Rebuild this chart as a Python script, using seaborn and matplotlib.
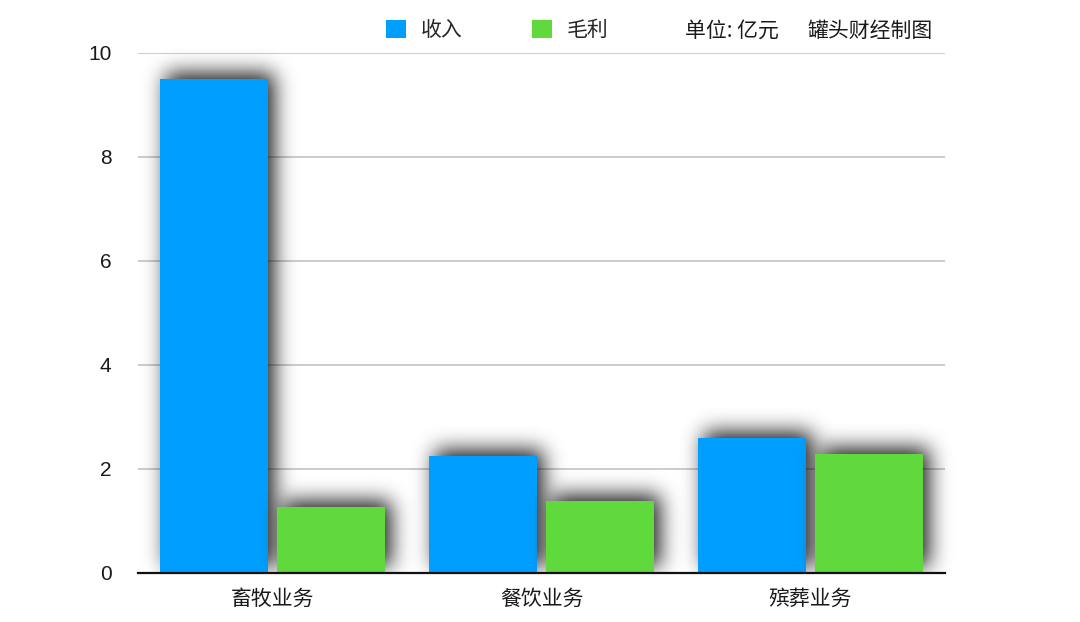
import numpy as np
import pandas as pd
import matplotlib
matplotlib.use("Agg")
import matplotlib.pyplot as plt
import seaborn as sns

# ---- data ----
categories = ["畜牧业务", "餐饮业务", "殡葬业务"]
series_names = ["收入", "毛利"]
revenue = [9.5, 2.25, 2.6]
gross_profit = [1.27, 1.38, 2.29]
y_ticks = [0, 2, 4, 6, 8, 10]
unit_text = "单位: 亿元"
credit_text = "罐头财经制图"

colors = {"收入": "#009FFF", "毛利": "#5FD93B"}

df = pd.DataFrame({
    "category": categories * 2,
    "series": [series_names[0]] * len(categories) + [series_names[1]] * len(categories),
    "value": revenue + gross_profit,
})

sns.set_theme(style="white")
plt.rcParams["font.family"] = ["Noto Sans CJK SC", "DejaVu Sans"]


def _blur(a, sigma):
    r = int(3 * sigma)
    x = np.arange(-r, r + 1)
    k = np.exp(-x ** 2 / (2 * sigma ** 2))
    k /= k.sum()
    out = np.zeros_like(a)
    p = np.pad(a, [(r, r), (0, 0)])
    for i, w in enumerate(k):
        out += w * p[i:i + a.shape[0], :]
    out2 = np.zeros_like(a)
    p = np.pad(out, [(0, 0), (r, r)])
    for i, w in enumerate(k):
        out2 += w * p[:, i:i + a.shape[1]]
    return out2


class ShadowFilter:
    def __init__(self, sigma=10.5, alpha=0.9, ox=6, oy=6):
        self.sigma = sigma
        self.alpha = alpha
        self.ox = ox
        self.oy = oy

    def __call__(self, im, dpi):
        h, w = im.shape[:2]
        pad = int(3 * self.sigma + max(abs(self.ox), abs(self.oy))) + 2
        p = np.pad(im, [(pad, pad), (pad, pad), (0, 0)])
        a = p[:, :, 3]
        sh = np.roll(a, self.ox, axis=1)
        sh = np.roll(sh, -self.oy, axis=0)
        sh = np.clip(_blur(sh, self.sigma) * self.alpha, 0, 1)
        sh[pad + h:, :] = 0.0  # clip at the baseline
        out = np.zeros_like(p)
        oa = a + sh * (1 - a)
        safe = np.maximum(oa, 1e-6)
        for c in range(3):
            out[:, :, c] = np.where(oa > 0, p[:, :, c] * a / safe, 0.0)
        out[:, :, 3] = oa
        return out, -pad, -pad


fig = plt.figure(figsize=(10.8, 6.22), dpi=100)
ax = fig.add_axes([138 / 1080, 1 - 573 / 622, (945 - 138) / 1080, (573 - 53) / 622])

sns.barplot(data=df, x="category", y="value", hue="series", order=categories,
            hue_order=series_names, palette=colors, width=0.874, gap=0.085,
            linewidth=0, saturation=1, ax=ax, legend=True)

for patch in ax.patches:
    patch.set_agg_filter(ShadowFilter())

ax.set_xlim(-0.5, len(categories) - 0.5)
ax.set_ylim(0, 10)
ax.set_yticks(y_ticks)
ax.set_yticklabels([str(t) for t in y_ticks],
                   family=["Liberation Sans", "Noto Sans CJK SC"])
ax.set_axisbelow(True)
ax.yaxis.grid(True, color="#c4c4c4", linewidth=1.2)
ax.xaxis.grid(False)
for s in ["top", "left", "right"]:
    ax.spines[s].set_visible(False)
ax.spines["bottom"].set_color("#111111")
ax.spines["bottom"].set_linewidth(1.6)
ax.set_xlabel("")
ax.set_ylabel("")
ax.tick_params(axis="y", length=0, pad=19, labelsize=15, labelcolor="#1a1a1a")
ax.tick_params(axis="x", length=0, pad=11, labelsize=15, labelcolor="#1a1a1a")

sns.move_legend(ax, loc="center left", bbox_to_anchor=(386 / 1080, 1 - 30 / 622),
                bbox_transform=fig.transFigure, ncol=2, frameon=False, title=None,
                fontsize=15, handlelength=0.96, handleheight=0.96,
                handletextpad=0.72, columnspacing=3.3, borderpad=0,
                borderaxespad=0)

fig.text(685 / 1080, 1 - 31 / 622, unit_text, ha="left", va="center",
         fontsize=15, color="#1a1a1a")
fig.text(807 / 1080, 1 - 31 / 622, credit_text, ha="left", va="center",
         fontsize=15, color="#1a1a1a")

fig.savefig("out.png", dpi=100, facecolor="white")
